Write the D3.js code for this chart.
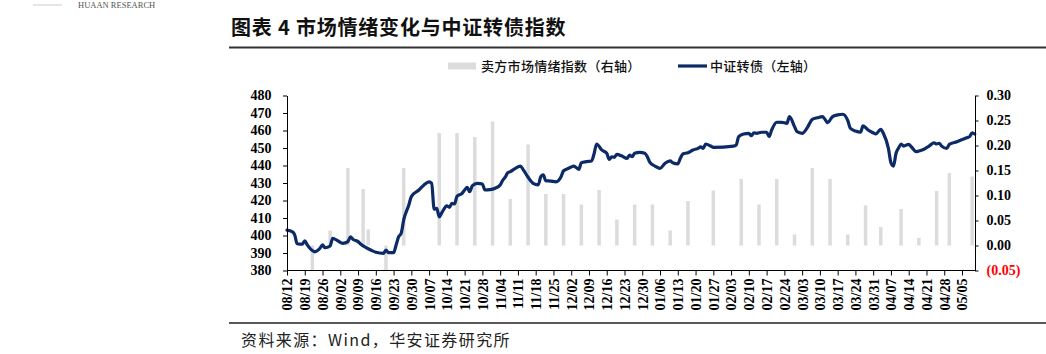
<!DOCTYPE html>
<html><head><meta charset="utf-8">
<script src="https://cdn.jsdelivr.net/npm/d3@7"></script>
<style>
html,body{margin:0;padding:0;background:#fff;}
svg{display:block;}
</style></head>
<body>
<svg id="chart" width="1046" height="354"></svg>
<script>
// ---------- DATA ----------
const lineDates = ["2024-08-12","2024-08-14","2024-08-15","2024-08-16","2024-08-18","2024-08-19","2024-08-20","2024-08-21","2024-08-23","2024-08-25","2024-08-26","2024-08-27","2024-08-29","2024-08-30","2024-09-01","2024-09-03","2024-09-05","2024-09-06","2024-09-07","2024-09-09","2024-09-10","2024-09-12","2024-09-14","2024-09-16","2024-09-19","2024-09-20","2024-09-21","2024-09-23","2024-09-24","2024-09-25","2024-09-26","2024-09-27","2024-09-29","2024-09-30","2024-10-03","2024-10-05","2024-10-07","2024-10-08","2024-10-09","2024-10-10","2024-10-11","2024-10-12","2024-10-14","2024-10-15","2024-10-16","2024-10-17","2024-10-18","2024-10-20","2024-10-21","2024-10-22","2024-10-23","2024-10-24","2024-10-26","2024-10-28","2024-10-29","2024-10-31","2024-11-02","2024-11-04","2024-11-05","2024-11-06","2024-11-07","2024-11-08","2024-11-10","2024-11-12","2024-11-13","2024-11-15","2024-11-17","2024-11-19","2024-11-20","2024-11-21","2024-11-22","2024-11-24","2024-11-26","2024-11-28","2024-11-29","2024-12-01","2024-12-03","2024-12-05","2024-12-06","2024-12-08","2024-12-10","2024-12-11","2024-12-12","2024-12-14","2024-12-16","2024-12-17","2024-12-18","2024-12-19","2024-12-20","2024-12-22","2024-12-24","2024-12-25","2024-12-26","2024-12-27","2024-12-29","2024-12-31","2025-01-01","2025-01-02","2025-01-04","2025-01-06","2025-01-08","2025-01-10","2025-01-11","2025-01-13","2025-01-14","2025-01-15","2025-01-17","2025-01-19","2025-01-21","2025-01-22","2025-01-23","2025-01-24","2025-01-26","2025-01-27","2025-02-04","2025-02-05","2025-02-06","2025-02-08","2025-02-10","2025-02-11","2025-02-12","2025-02-13","2025-02-15","2025-02-17","2025-02-18","2025-02-19","2025-02-21","2025-02-23","2025-02-25","2025-02-26","2025-02-28","2025-03-01","2025-03-03","2025-03-05","2025-03-07","2025-03-09","2025-03-11","2025-03-12","2025-03-13","2025-03-15","2025-03-17","2025-03-19","2025-03-21","2025-03-22","2025-03-24","2025-03-26","2025-03-27","2025-03-29","2025-03-31","2025-04-01","2025-04-03","2025-04-04","2025-04-06","2025-04-07","2025-04-08","2025-04-09","2025-04-10","2025-04-11","2025-04-12","2025-04-14","2025-04-15","2025-04-17","2025-04-18","2025-04-20","2025-04-22","2025-04-24","2025-04-25","2025-04-26","2025-04-27","2025-04-29","2025-04-30","2025-05-03","2025-05-07","2025-05-08","2025-05-09","2025-05-10"];
const lineValues = [403.1,402.2,400.5,395.3,395.0,396.9,394.6,392.7,390.7,392.7,394.6,393.0,394.0,398.4,397.0,395.5,396.5,399.3,397.8,396.5,395.1,393.2,391.7,390.4,389.8,391.7,390.2,390.2,394.6,399.3,401.3,408.9,417.4,422.2,426.0,428.9,430.6,429.8,415.0,415.5,410.7,413.0,416.9,416.1,418.4,418.0,422.4,424.1,426.0,427.5,425.0,428.3,429.8,429.4,426.0,426.2,427.0,428.9,431.5,433.3,435.9,436.5,438.4,439.7,437.8,433.3,429.8,428.9,433.6,434.6,431.3,431.1,430.7,433.6,437.0,438.4,439.7,437.8,441.6,442.2,442.6,446.6,452.3,448.9,447.0,443.5,445.0,444.7,446.4,445.4,444.1,446.0,445.0,447.0,447.5,447.0,445.0,441.8,439.7,438.4,441.3,442.6,441.6,440.9,444.1,446.6,447.3,448.9,449.8,450.7,449.8,452.3,451.1,450.4,451.1,451.7,456.5,458.0,458.4,457.0,458.7,458.4,459.0,459.0,456.5,460.3,464.7,464.7,464.1,467.9,462.2,459.3,458.4,461.5,466.4,467.3,467.9,466.4,464.5,467.9,468.9,469.3,465.6,461.3,459.7,459.0,462.6,460.3,458.7,458.0,460.7,458.4,449.8,441.6,439.7,447.0,450.0,452.3,451.1,452.1,450.7,447.9,448.3,449.3,451.1,453.0,452.3,452.7,451.1,449.8,452.1,453.6,455.9,456.5,458.7,458.0];

const barDates = ["2024-08-22","2024-08-29","2024-09-05","2024-09-11","2024-09-13","2024-09-20","2024-09-27","2024-10-11","2024-10-18","2024-10-25","2024-11-01","2024-11-08","2024-11-15","2024-11-22","2024-11-29","2024-12-06","2024-12-13","2024-12-20","2024-12-27","2025-01-03","2025-01-10","2025-01-17","2025-01-27","2025-02-07","2025-02-14","2025-02-21","2025-02-28","2025-03-07","2025-03-14","2025-03-21","2025-03-28","2025-04-03","2025-04-11","2025-04-18","2025-04-25","2025-04-30","2025-05-09"];
const barValues = [-0.05,0.030,0.155,0.113,0.032,-0.05,0.155,0.225,0.225,0.217,0.248,0.093,0.202,0.103,0.103,0.082,0.111,0.052,0.082,0.082,0.030,0.089,0.110,0.133,0.082,0.133,0.022,0.155,0.133,0.022,0.080,0.037,0.073,0.015,0.109,0.145,0.138];

const xTickLabels = ["08/12","08/19","08/26","09/02","09/09","09/16","09/23","09/30","10/07","10/14","10/21","10/28","11/04","11/11","11/18","11/25","12/02","12/09","12/16","12/23","12/30","01/06","01/13","01/20","01/27","02/03","02/10","02/17","02/24","03/03","03/10","03/17","03/24","03/31","04/07","04/14","04/21","04/28","05/05"];
const leftTicks = [380,390,400,410,420,430,440,450,460,470,480];
const rightTicks = [-0.05,0,0.05,0.10,0.15,0.20,0.25,0.30];

const titleText = "图表 4 市场情绪变化与中证转债指数";
const barName = "卖方市场情绪指数（右轴）";
const lineName = "中证转债（左轴）";
const sourceText = "资料来源：Wind，华安证券研究所";

// ---------- CHART ----------
const parse = d3.timeParse("%Y-%m-%d");
const labelDate = s => { const [m,d] = s.split("/").map(Number); return new Date(m >= 8 ? 2024 : 2025, m-1, d); };

const svg = d3.select("#chart");
svg.append("rect").attr("width",1046).attr("height",354).attr("fill","#fff");

const serif = "'Liberation Serif','DejaVu Serif',serif";
const cjk = "'Noto Sans CJK SC','Noto Sans CJK JP',sans-serif";

const plotL = 287, plotR = 975, plotT = 95.5, plotB = 270.5;
const x = d3.scaleTime().domain([labelDate("08/12"), labelDate("05/05")]).range([287, 962]);
const yL = d3.scaleLinear().domain([380,480]).range([plotB, plotT]);
const yR = d3.scaleLinear().domain([-0.05,0.30]).range([plotB, plotT]);

// header logo
svg.append("line").attr("x1",33).attr("x2",62).attr("y1",5).attr("y2",5).attr("stroke","#ccc").attr("stroke-width",1);
svg.append("text").attr("x",78).attr("y",8).attr("font-family",serif).attr("font-size",8.5).attr("fill","#555").text("HUAAN RESEARCH");

// title
svg.append("text").attr("x",231).attr("y",35).attr("font-family",cjk).attr("font-weight",700)
  .attr("font-size",20).attr("letter-spacing",0.8).attr("fill","#111").text(titleText);
svg.append("line").attr("x1",229).attr("x2",1046).attr("y1",47.5).attr("y2",47.5).attr("stroke","#333").attr("stroke-width",1.8);

// legend
svg.append("rect").attr("x",448).attr("y",62.5).attr("width",28).attr("height",7).attr("fill","#dcdcdc");
svg.append("text").attr("x",481).attr("y",70.5).attr("font-family",cjk).attr("font-size",13).attr("letter-spacing",0.3).attr("font-weight",500).attr("fill","#111").text(barName);
svg.append("line").attr("x1",678).attr("x2",707).attr("y1",66).attr("y2",66).attr("stroke","#0b2a66").attr("stroke-width",3.2);
svg.append("text").attr("x",710).attr("y",70.5).attr("font-family",cjk).attr("font-size",13).attr("letter-spacing",0.3).attr("font-weight",500).attr("fill","#111").text(lineName);

// bars
const bars = barDates.map((d,i)=>({date:parse(d), v:barValues[i]}));
svg.append("g").selectAll("rect").data(bars).join("rect")
  .attr("x", d => x(d.date) - 1.75)
  .attr("width", 3.5)
  .attr("y", d => yR(Math.max(0,d.v)))
  .attr("height", d => Math.abs(yR(d.v) - yR(0)))
  .attr("fill", "#dcdcdc");

// line
const pts = lineDates.map((d,i)=>({date:parse(d), v:lineValues[i]}));
svg.append("path").datum(pts)
  .attr("fill","none").attr("stroke","#0b2a66").attr("stroke-width",3.2)
  .attr("stroke-linejoin","round").attr("stroke-linecap","round")
  .attr("d", d3.line().x(d=>x(d.date)).y(d=>yL(d.v)).curve(d3.curveMonotoneX));

// left axis
const gL = svg.append("g").attr("transform",`translate(${plotL},0)`)
  .call(d3.axisLeft(yL).tickValues(leftTicks).tickSize(4).tickSizeOuter(0).tickPadding(11.5).tickFormat(d3.format("d")));
gL.select(".domain").attr("stroke","#000");
gL.selectAll(".tick line").attr("stroke","#000");
gL.selectAll("text").attr("font-family",serif).attr("font-weight",700).attr("font-size",14).attr("fill","#000");

// right axis
const gR = svg.append("g").attr("transform",`translate(${plotR},0)`)
  .call(d3.axisRight(yR).tickValues(rightTicks).tickSize(3.5).tickSizeOuter(0).tickPadding(8)
    .tickFormat(v => v < 0 ? "(" + d3.format(".2f")(-v) + ")" : d3.format(".2f")(v)));
gR.select(".domain").attr("stroke","#000");
gR.selectAll(".tick line").attr("stroke","#000");
gR.selectAll("text").attr("font-family",serif).attr("font-weight",700).attr("font-size",14)
  .attr("fill", d => d < 0 ? "#ff0000" : "#000");

// bottom axis
const gB = svg.append("g").attr("transform",`translate(0,${plotB})`)
  .call(d3.axisBottom(x).tickValues(xTickLabels.map(labelDate)).tickSize(5).tickSizeOuter(0)
    .tickFormat(d3.timeFormat("%m/%d")));
gB.select(".domain").remove();
gB.append("line").attr("x1",plotL).attr("x2",plotR).attr("y1",0).attr("y2",0).attr("stroke","#000");
gB.selectAll(".tick line").attr("stroke","#000");
gB.selectAll(".tick text")
  .attr("font-family",serif).attr("font-weight",700).attr("font-size",14).attr("fill","#000")
  .attr("transform","rotate(-90)").attr("text-anchor","end")
  .attr("x",-8).attr("y",0).attr("dy","0.35em");

// bottom rule + source
svg.append("line").attr("x1",229).attr("x2",1046).attr("y1",323).attr("y2",323).attr("stroke","#222").attr("stroke-width",1.5);
svg.append("text").attr("x",241).attr("y",346).attr("font-family",cjk).attr("font-size",16).attr("letter-spacing",1.4).attr("fill","#222").text(sourceText);
</script>
</body></html>
